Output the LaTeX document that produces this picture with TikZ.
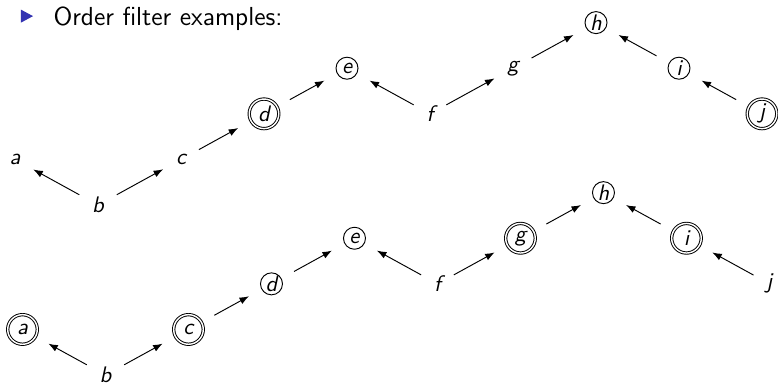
\documentclass[tikz,border=0pt]{standalone}
\usetikzlibrary{arrows.meta, positioning}
\definecolor{structure}{RGB}{51,51,178}
\tikzset{
  plain/.style={inner sep=0pt, font=\fontsize{9.5}{11}\selectfont\sffamily\itshape},
  circ/.style={plain, draw, circle, minimum size=9.3pt},
  dcirc/.style={plain, draw, circle, double, minimum size=12.5pt},
  arr/.style={-{Latex[length=4pt,width=3pt]}, shorten >=6pt, shorten <=6pt}
}
\begin{document}
\begin{tikzpicture}[x=1.232cm, y=0.677cm]
    \useasboundingbox (-0.181,-3.925) rectangle (9.193,4.496);

        % Heading
        \fill[structure] (0.072,4.0) -- (0.072,4.284) -- (0.217,4.142) -- cycle;
        \node[anchor=base west, inner sep=0pt, font=\fontsize{11}{13}\selectfont\sffamily] (head) at (0.458,3.934) {Order filter examples:};

        % Top chain
        \foreach \n/\x/\y/\s in {a/0/1/plain, b/1/0/plain, c/2/1/plain, d/3/2/dcirc, e/4/3/circ, f/5/2/plain, g/6/3/plain, h/7/4/circ, i/8/3/circ, j/9/2/dcirc} {
            \node[\s] (\n1) at (\x,\y) {\n};
        }

        % Bottom chain
        \begin{scope}[shift={(0.09,-3.728)}]
        \foreach \n/\x/\y/\s in {a/0/1/dcirc, b/1/0/plain, c/2/1/dcirc, d/3/2/circ, e/4/3/circ, f/5/2/plain, g/6/3/dcirc, h/7/4/circ, i/8/3/dcirc, j/9/2/plain} {
            \node[\s] (\n2) at (\x,\y) {\n};
        }
        \end{scope}

        % Arrows, always pointing up
        \foreach \r in {1,2} {
            \foreach \s/\t in {b/a, b/c, c/d, d/e, f/e, f/g, g/h, i/h, j/i} {
                \draw[arr] (\s\r) -- (\t\r);
            }
        }
\end{tikzpicture}
\end{document}
